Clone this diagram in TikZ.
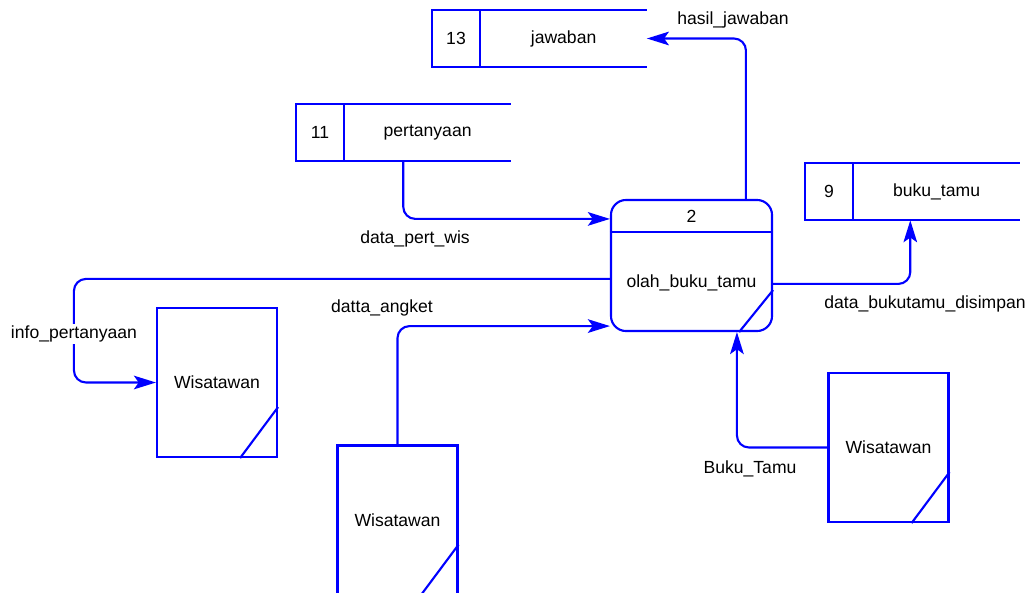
\documentclass[tikz,border=0pt]{standalone}
\usepackage{fontspec}
\setmainfont{Liberation Sans}
\usetikzlibrary{positioning,arrows.meta,calc}

\begin{document}
\begin{tikzpicture}[x=0.025cm, y=-0.025cm,
    every node/.style={font=\fontsize{12.5}{15}\selectfont},
    storenum/.style={rectangle, minimum width=1.2cm, minimum height=1.425cm, inner sep=0pt},
    storelbl/.style={rectangle, minimum width=4.15cm, minimum height=1.425cm, inner sep=0pt},
    procbox/.style={rectangle, draw=blue, rounded corners=0.375cm, line width=1.5pt,
                    minimum width=4.025cm, minimum height=3.275cm},
    entity/.style={rectangle, draw=blue, line width=1.5pt,
                   minimum width=3.0cm, minimum height=3.725cm, inner sep=0pt},
    storeline/.style={blue, line width=1.5pt},
    flow/.style={-{Stealth[length=0.55cm, width=0.34cm, inset=0.12cm]}, blue,
                 line width=1.5pt, rounded corners=0.3cm},
    lbl/.style={inner sep=1pt}
]
    \useasboundingbox (0,0) rectangle (1032,592);

    % data stores
    \node[storenum] (n13) at (456,38.5) {13};
    \node[storelbl, right=0pt of n13] (jawaban) {jawaban};
    \node[storenum] (n11) at (320,132.5) {11};
    \node[storelbl, right=0pt of n11] (pertanyaan) {pertanyaan};
    \node[storenum] (n9) at (829,191.5) {9};
    \node[storelbl, right=0pt of n9] (bukutamu) {buku\_tamu};
    \draw[storeline] (jawaban.north east) -- (n13.north west) -- (n13.south west) -- (jawaban.south east)
        (n13.north east) -- (n13.south east);
    \draw[storeline] (pertanyaan.north east) -- (n11.north west) -- (n11.south west) -- (pertanyaan.south east)
        (n11.north east) -- (n11.south east);
    \draw[storeline] (bukutamu.north east) -- (n9.north west) -- (n9.south west) -- (bukutamu.south east)
        (n9.north east) -- (n9.south east);

    % process
    \node[procbox] (proc) at (691.5,265.5) {};
    \draw[storeline] ($(proc.north west)+(0,33)$) -- ($(proc.north east)+(0,33)$);
    \node (pnum) at ($(proc.north)+(0,17)$) {2};
    \node (pname) at ($(proc.north)+(0,84)$) {olah\_buku\_tamu};
    \draw[storeline] ($(proc.south east)+(0,-42)$) -- ($(proc.south east)+(-34,0)$);

    % external entities
    \node[entity] (w1) at (217,382.5) {Wisatawan};
    \node[entity] (w2) at (397.5,520) {Wisatawan};
    \node[entity] (w3) at (888.5,447.5) {Wisatawan};
    \foreach \w in {w1,w2,w3}
        \draw[storeline] ($(\w.south east)+(0,-51)$) -- ($(\w.south east)+(-38,0)$);

    % data flows
    \draw[flow] ($(proc.north west)+(136,0)$) |- (jawaban.east);
    \draw[flow] ($(n11.south east)+(59,0)$) |- ($(proc.north west)+(0,20)$);
    \draw[flow] ($(proc.north west)+(0,80)$) -| ($(w1.west)+(-82,0)$) -- (w1.west);
    \draw[flow] (w2.north) |- ($(proc.south west)+(0,-6)$);
    \draw[flow] ($(proc.north east)+(0,85)$) -| ($(n9.south east)+(57,0)$);
    \draw[flow] (w3.west) -| ($(proc.south west)+(127,0)$);

    % flow labels
    \node[lbl] (l1) at (733,20) {hasil\_jawaban};
    \node[lbl] (l2) at (415,239) {data\_pert\_wis};
    \node[lbl, fill=white] (l3) at (74,334) {info\_pertanyaan};
    \node[lbl] (l4) at (382,308) {datta\_angket};
    \node[lbl] (l5) at (925,304) {data\_bukutamu\_disimpan};
    \node[lbl] (l6) at (750,469) {Buku\_Tamu};
\end{tikzpicture}
\end{document}
